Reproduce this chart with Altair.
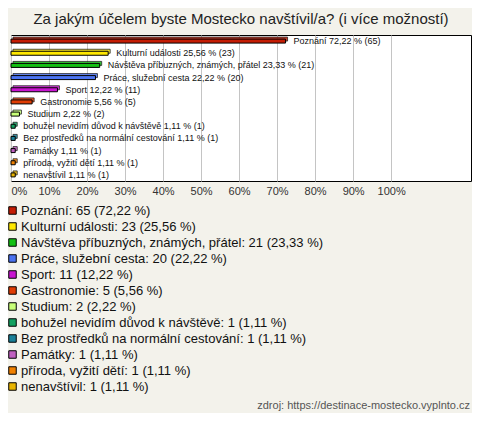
import altair as alt
import pandas as pd

categories = [
    "Poznání",
    "Kulturní události",
    "Návštěva příbuzných, známých, přátel",
    "Práce, služební cesta",
    "Sport",
    "Gastronomie",
    "Studium",
    "bohužel nevidím důvod k návštěvě",
    "Bez prostředků na normální cestování",
    "Památky",
    "příroda, vyžití dětí",
    "nenavštívil",
]
counts = [65, 23, 21, 20, 11, 5, 2, 1, 1, 1, 1, 1]
percents = [72.22, 25.56, 23.33, 22.22, 12.22, 5.56, 2.22, 1.11, 1.11, 1.11, 1.11, 1.11]
colors = [
    "#c41c04", "#ffe800", "#12c012", "#4a72f0", "#c814d0", "#e03c04",
    "#c8ff78", "#12a060", "#1a8098", "#c060c0", "#f08000", "#e8b400",
]
ticks = [0, 10, 20, 30, 40, 50, 60, 70, 80, 90, 100]
title = "Za jakým účelem byste Mostecko navštívil/a? (i více možností)"
footer = "zdroj: https://destinace-mostecko.vyplnto.cz"

def fmt(p):
    return f"{p:.2f}".replace(".", ",")

df = pd.DataFrame({
    "cat": categories,
    "count": counts,
    "pct": percents,
    "bar_label": [f"{c} {fmt(p)} % ({n})" for c, p, n in zip(categories, percents, counts)],
    "legend_label": [f"{c}: {n} ({fmt(p)} %)" for c, p, n in zip(categories, percents, counts)],
})
legend_domain = list(df["legend_label"])

FONT = "Liberation Sans"

x_enc = alt.X(
    "pct:Q",
    scale=alt.Scale(domain=[0, 121], nice=False, zero=True),
    axis=alt.Axis(
        values=ticks, labelExpr="datum.value + '%'", title=None, grid=True,
        gridColor="#c4c4c4", domain=False, ticks=False, labelFlush=True,
        labelFontSize=11, labelFont=FONT, labelColor="#333333", labelPadding=4,
    ),
)
y_enc = alt.Y("cat:N", sort=categories, axis=None,
              scale=alt.Scale(paddingInner=0, paddingOuter=0))
color_enc = alt.Color(
    "legend_label:N",
    scale=alt.Scale(domain=legend_domain, range=colors),
    sort=legend_domain,
    legend=alt.Legend(
        title=None, orient="none", legendX=-5, legendY=169,
        symbolType="square", symbolSize=56, symbolStrokeColor="black",
        symbolStrokeWidth=1, symbolOpacity=1, labelFontSize=13, labelFont=FONT,
        labelColor="#111111", labelLimit=0, rowPadding=2, labelOffset=2,
    ),
)

base = alt.Chart(df)
back = base.mark_bar(size=4, xOffset=2, yOffset=-2, stroke="black",
                     strokeWidth=0.8, opacity=0.85).encode(x=x_enc, y=y_enc, color=color_enc)
front = base.mark_bar(size=4, stroke="black", strokeWidth=1).encode(
    x=x_enc, y=y_enc, color=color_enc)
labels = base.mark_text(align="left", baseline="middle", dx=8, fontSize=9,
                        font=FONT, color="#111111").encode(
    x="pct:Q", y=alt.Y("cat:N", sort=categories), text="bar_label:N")

foot = alt.Chart(pd.DataFrame({"t": [footer]})).mark_text(
    align="right", baseline="alphabetic", fontSize=11, font=FONT, color="#555555"
).encode(text="t:N", x=alt.value(459), y=alt.value(374))

chart = alt.layer(back, front, labels, foot).properties(
    width=460, height=146,
    autosize="none",
    padding={"left": 3, "top": 27, "right": 1, "bottom": 232},
    title=alt.Title(title, fontSize=15, font=FONT, fontWeight="normal",
                    color="#222222", anchor="middle", offset=8),
    background="#f3f2eb",
).configure_view(stroke="black", strokeWidth=1, fill="white")

chart.save("out.html", embed_options={"renderer": "svg", "actions": False})
